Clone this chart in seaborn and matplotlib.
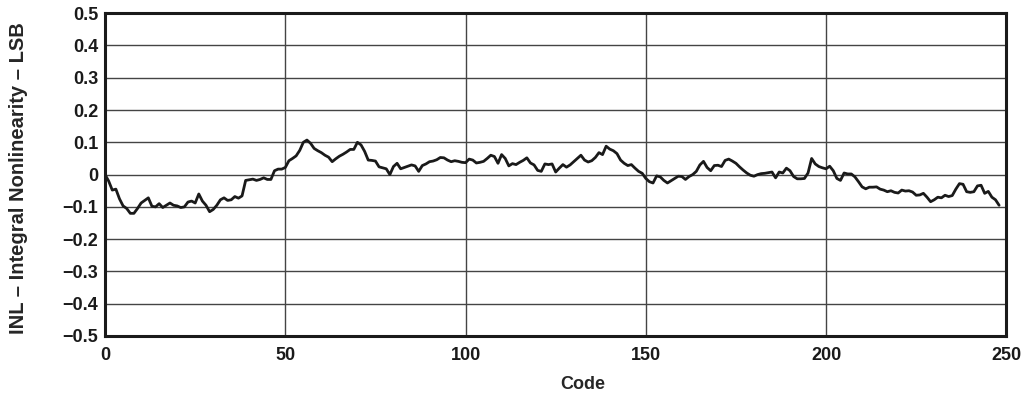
import matplotlib
matplotlib.use("Agg")
import matplotlib.pyplot as plt
import seaborn as sns
import numpy as np
import pandas as pd


# INL per code
inl = [
    0.000, -0.020, -0.048, -0.045, -0.075, -0.097, -0.105, -0.120, -0.120, -0.105,
    -0.088, -0.080, -0.072, -0.098, -0.100, -0.090, -0.102, -0.095, -0.088, -0.095,
    -0.097, -0.102, -0.100, -0.085, -0.082, -0.088, -0.060, -0.082, -0.095, -0.115,
    -0.108, -0.095, -0.078, -0.072, -0.080, -0.078, -0.068, -0.073, -0.066, -0.018,
    -0.016, -0.014, -0.018, -0.015, -0.010, -0.015, -0.015, 0.012, 0.017, 0.017,
    0.022, 0.043, 0.050, 0.058, 0.075, 0.100, 0.107, 0.097, 0.081, 0.074,
    0.068, 0.060, 0.054, 0.040, 0.049, 0.057, 0.063, 0.070, 0.078, 0.078,
    0.100, 0.092, 0.072, 0.045, 0.044, 0.042, 0.024, 0.021, 0.018, 0.000,
    0.025, 0.035, 0.018, 0.022, 0.026, 0.030, 0.027, 0.010, 0.028, 0.033,
    0.040, 0.042, 0.046, 0.053, 0.052, 0.045, 0.040, 0.043, 0.041, 0.038,
    0.037, 0.048, 0.045, 0.036, 0.038, 0.041, 0.050, 0.060, 0.056, 0.035,
    0.062, 0.050, 0.027, 0.034, 0.031, 0.038, 0.044, 0.052, 0.036, 0.030,
    0.013, 0.010, 0.033, 0.031, 0.033, 0.008, 0.020, 0.031, 0.023, 0.030,
    0.040, 0.050, 0.060, 0.045, 0.039, 0.043, 0.053, 0.068, 0.062, 0.088,
    0.079, 0.074, 0.065, 0.045, 0.035, 0.028, 0.031, 0.020, 0.010, 0.004,
    -0.012, -0.022, -0.026, -0.004, -0.007, -0.018, -0.026, -0.019, -0.012, -0.005,
    -0.006, -0.015, -0.006, 0.000, 0.010, 0.030, 0.041, 0.022, 0.012, 0.028,
    0.029, 0.025, 0.044, 0.048, 0.042, 0.035, 0.024, 0.014, 0.005, -0.002,
    -0.005, 0.000, 0.003, 0.004, 0.006, 0.008, -0.010, 0.008, 0.005, 0.020,
    0.012, -0.006, -0.013, -0.013, -0.012, 0.005, 0.050, 0.033, 0.025, 0.021,
    0.018, 0.026, 0.012, -0.012, -0.018, 0.005, 0.002, 0.002, -0.007, -0.022,
    -0.038, -0.044, -0.039, -0.039, -0.038, -0.045, -0.048, -0.053, -0.050, -0.055,
    -0.057, -0.048, -0.051, -0.050, -0.054, -0.064, -0.063, -0.058, -0.070, -0.084,
    -0.078, -0.070, -0.072, -0.064, -0.068, -0.065, -0.045, -0.028, -0.030, -0.053,
    -0.055, -0.053, -0.035, -0.033, -0.058, -0.052, -0.070, -0.078, -0.095,
]
codes = np.arange(len(inl))

x_ticks = [0, 50, 100, 150, 200, 250]
y_ticks = [0.5, 0.4, 0.3, 0.2, 0.1, 0, -0.1, -0.2, -0.3, -0.4, -0.5]
y_labels = ["0.5", "0.4", "0.3", "0.2", "0.1", "0",
            "\u22120.1", "\u22120.2", "\u22120.3", "\u22120.4", "\u22120.5"]

df = pd.DataFrame({"Code": codes, "INL": inl})

sns.set_theme(style="white")
plt.rcParams["font.family"] = ["Liberation Sans", "DejaVu Sans"]
plt.rcParams["font.weight"] = "bold"

fig = plt.figure(figsize=(10.3, 4), dpi=100)
ax = fig.add_axes([0.102, 0.16, 0.875, 0.807])

sns.lineplot(data=df, x="Code", y="INL", color="#1a1a1a", linewidth=2.0, ax=ax)

ax.set_xlim(0, 250)
ax.set_ylim(-0.5, 0.5)
ax.set_xticks(x_ticks)
ax.set_xticklabels([str(t) for t in x_ticks], fontsize=13, fontweight="bold")
ax.set_yticks(y_ticks)
ax.set_yticklabels(y_labels, fontsize=13, fontweight="bold")
ax.tick_params(axis="x", length=0, pad=8, colors="#1a1a1a")
ax.tick_params(axis="y", length=0, pad=5, colors="#1a1a1a")

ax.grid(True, color="#444444", linewidth=1.0)
for s in ax.spines.values():
    s.set_color("#1a1a1a")
    s.set_linewidth(2.2)

ax.set_xlabel("Code", fontsize=13, fontweight="bold")
ax.set_ylabel("INL \u2013 Integral Nonlinearity \u2013 LSB", fontsize=14.5,
              fontweight="bold")
ax.xaxis.set_label_coords(0.53, -0.125)
ax.yaxis.set_label_coords(-0.086, 0.49)

fig.savefig("out.png", dpi=100)
